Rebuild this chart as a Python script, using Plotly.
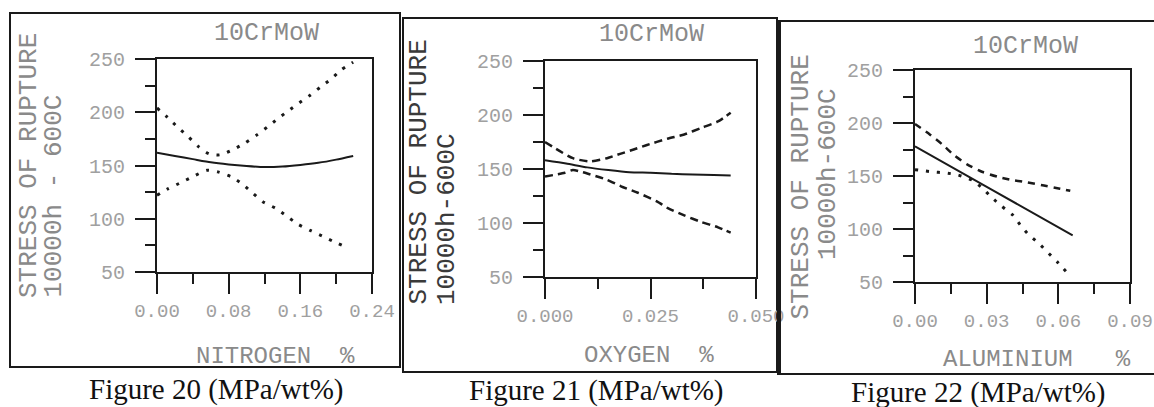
import plotly.graph_objects as go

W, H = 1154, 407

# ---------------- data ----------------
n_solid_x = [0.00, 0.02, 0.04, 0.06, 0.08, 0.10, 0.12, 0.14, 0.16, 0.18, 0.20, 0.219]
n_solid_y = [162, 159, 156, 153, 151, 149.5, 148.5, 149, 150.5, 152.5, 155.5, 159]
n_upper_x = [0.00, 0.012, 0.023, 0.035, 0.046, 0.058, 0.070, 0.085, 0.098, 0.112, 0.123, 0.135, 0.146, 0.159, 0.171, 0.183, 0.194, 0.206, 0.219]
n_upper_y = [204, 195, 186, 177, 168, 161, 160, 165, 171, 179, 186, 194, 201, 209, 216, 224, 231, 240, 247]
n_lower_x = [0.00, 0.012, 0.028, 0.041, 0.056, 0.068, 0.084, 0.096, 0.107, 0.118, 0.132, 0.144, 0.157, 0.171, 0.184, 0.196, 0.212]
n_lower_y = [122, 128, 134.5, 140, 145.5, 144, 139, 132, 124, 116, 110, 103, 95, 89, 84, 79, 73]

o_solid_x = [0.000, 0.005, 0.010, 0.015, 0.020, 0.025, 0.030, 0.035, 0.040, 0.044]
o_solid_y = [158, 155, 151.5, 149, 147, 146.5, 145.5, 145, 144.5, 144]
o_upper_x = [0.000, 0.0066, 0.0107, 0.0147, 0.0178, 0.021, 0.024, 0.029, 0.033, 0.037, 0.041, 0.044]
o_upper_y = [175, 160, 157, 160, 164, 168, 172, 178, 182, 188, 194, 202]
o_lower_x = [0.000, 0.0047, 0.0066, 0.009, 0.0147, 0.018, 0.022, 0.0265, 0.029, 0.033, 0.037, 0.041, 0.044]
o_lower_y = [143, 146.5, 149, 147, 140, 134, 128, 120, 114, 107, 101, 96, 91]

a_solid_x = [0.000, 0.033, 0.066]
a_solid_y = [178, 136, 94]
a_upper_x = [0.000, 0.0063, 0.0113, 0.0167, 0.0218, 0.028, 0.035, 0.041, 0.047, 0.054, 0.0607, 0.065]
a_upper_y = [199, 189, 180, 169, 161, 154, 149, 146, 144, 141, 138, 136]
a_lower_x = [0.000, 0.007, 0.0126, 0.018, 0.024, 0.028, 0.032, 0.036, 0.041, 0.044, 0.047, 0.052, 0.056, 0.060, 0.064]
a_lower_y = [156, 154, 153, 151, 146, 139, 130, 122, 113, 104, 96, 86, 77, 68, 58]

x_titles = ["NITROGEN  %", "OXYGEN  %", "ALUMINIUM   %"]
y_title_1 = "STRESS OF RUPTURE"
y_title_2 = ["10000h - 600C", "10000h-600C", "10000h-600C"]
panel_title = "10CrMoW"
captions = ["Figure 20 (MPa/wt%)", "Figure 21 (MPa/wt%)", "Figure 22 (MPa/wt%)"]

x_ranges = [[0, 0.24], [0, 0.05], [0, 0.09]]
x_dticks = [0.08, 0.025, 0.03]
x_formats = [".2f", ".3f", ".2f"]
y_range = [50, 250]

# ---------------- helpers ----------------
def fx(p):
    return p / W

def fy(p):
    return 1 - p / H

MONO = "Liberation Mono"
SERIF = "Liberation Serif"
INK = "#1a1a1a"
GREY = "#a0a0a0"
TGREY = "#8a8a8a"

fig = go.Figure()

dot = "3px,8px"
dash = "8px,5px"

series = [
    (1, n_solid_x, n_solid_y, "solid", 2),
    (1, n_upper_x, n_upper_y, dot, 3),
    (1, n_lower_x, n_lower_y, dot, 3),
    (2, o_solid_x, o_solid_y, "solid", 2),
    (2, o_upper_x, o_upper_y, dash, 2.5),
    (2, o_lower_x, o_lower_y, dash, 2.5),
    (3, a_solid_x, a_solid_y, "solid", 2),
    (3, a_upper_x, a_upper_y, "7px,6px", 2.5),
    (3, a_lower_x, a_lower_y, dot, 3),
]
for k, xs, ys, d, w in series:
    sfx = "" if k == 1 else str(k)
    fig.add_trace(go.Scatter(x=xs, y=ys, mode="lines", line=dict(color=INK, width=w, dash=d, shape="spline", smoothing=0.6),
                             xaxis="x" + sfx, yaxis="y" + sfx, showlegend=False, hoverinfo="skip"))

# plot-area pixel boxes (left, right, top, bottom)
boxes = [(157, 372, 59, 272), (545, 756, 61, 277), (915, 1130, 70, 282)]

layout = dict(width=W, height=H, margin=dict(l=0, r=0, t=0, b=0, pad=0, autoexpand=False),
              paper_bgcolor="white", plot_bgcolor="white", showlegend=False)

for i, (l, r, t, b) in enumerate(boxes):
    sfx = "" if i == 0 else str(i + 1)
    common = dict(showline=True, linecolor=INK, linewidth=2, mirror=True,
                  ticks="outside", ticklen=20, tickwidth=2, tickcolor=INK,
                  showgrid=False, zeroline=False, fixedrange=True, automargin=False)
    layout["xaxis" + sfx] = dict(common, domain=[fx(l), fx(r)], range=x_ranges[i],
                                 tick0=0, dtick=x_dticks[i], tickformat=x_formats[i],
                                 anchor="y" + sfx,
                                 tickfont=dict(family=MONO, size=19, color=GREY),
                                 minor=dict(ticks="outside", ticklen=10, tickwidth=2, tickcolor=INK,
                                            dtick=x_dticks[i] / 2, tick0=0))
    layout["yaxis" + sfx] = dict(common, domain=[fy(b), fy(t)], range=y_range,
                                 tick0=50, dtick=50, anchor="x" + sfx, ticklabelstandoff=6,
                                 tickfont=dict(family=MONO, size=20, color=GREY),
                                 minor=dict(ticks="outside", ticklen=10, tickwidth=2, tickcolor=INK,
                                            dtick=25, tick0=50))

fig.update_layout(**layout)

# outer frames
frames = [(10, 400, 13, 367, 2), (403, 777, 18, 372, 2), (778, 1165, 21, 374, 2)]
for x0, x1, y0, y1, w in frames:
    fig.add_shape(type="rect", xref="paper", yref="paper", x0=fx(x0), x1=fx(x1), y0=fy(y1), y1=fy(y0),
                  line=dict(color=INK, width=w), layer="below")
fig.add_shape(type="line", xref="paper", yref="paper", x0=fx(779), x1=fx(779), y0=fy(374), y1=fy(21),
              line=dict(color=INK, width=4))

ann = []
title_pos = [(266, 33), (651, 34), (1025, 46)]
for (x, y) in title_pos:
    ann.append(dict(text=panel_title, x=fx(x), y=fy(y), xref="paper", yref="paper", showarrow=False,
                    xanchor="center", yanchor="middle", font=dict(family=MONO, size=25, color=TGREY)))

xt_pos = [(275, 356), (649, 355), (1037, 359)]
for t, (x, y) in zip(x_titles, xt_pos):
    ann.append(dict(text=t.replace(" ", "&nbsp;"), x=fx(x), y=fy(y), xref="paper", yref="paper", showarrow=False,
                    xanchor="center", yanchor="middle", font=dict(family=MONO, size=24, color=TGREY)))

yt1 = [(28.5, 300, TGREY), (418, 307, "#3a3a3a"), (800, 322, TGREY)]
for (x, y, c) in yt1:
    ann.append(dict(text=y_title_1, x=fx(x), y=fy(y), xref="paper", yref="paper", showarrow=False,
                    textangle=-90, xanchor="center", yanchor="bottom", font=dict(family=MONO, size=26, color=c)))
yt2 = [(53, 300, TGREY), (447, 307, "#3a3a3a"), (828, 262, TGREY)]
for t, (x, y, c) in zip(y_title_2, yt2):
    ann.append(dict(text=t.replace(" ", "&nbsp;"), x=fx(x), y=fy(y), xref="paper", yref="paper", showarrow=False,
                    textangle=-90, xanchor="center", yanchor="bottom", font=dict(family=MONO, size=26, color=c)))

cap_pos = [(216, 389), (596, 390), (978, 392)]
for t, (x, y) in zip(captions, cap_pos):
    ann.append(dict(text=t, x=fx(x), y=fy(y), xref="paper", yref="paper", showarrow=False,
                    xanchor="center", yanchor="middle", font=dict(family=SERIF, size=29, color="#111")))

fig.update_layout(annotations=ann)
fig.write_html("out.html")
